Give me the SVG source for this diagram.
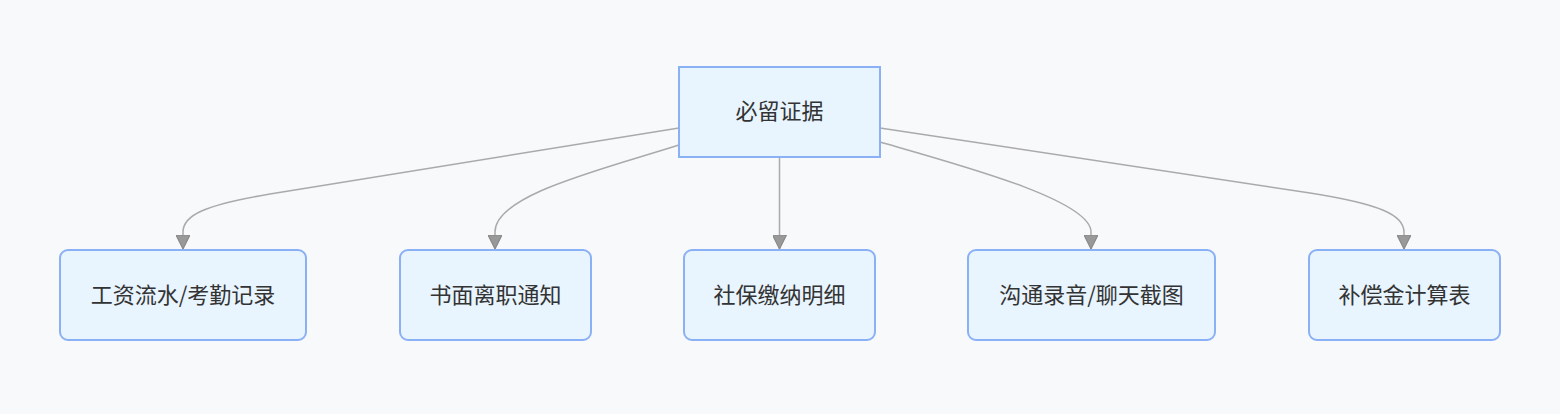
<svg xmlns="http://www.w3.org/2000/svg" width="1560" height="414" viewBox="0 0 1560 414">
<style>
.node rect{fill:#e8f4fe;stroke:#8ab0f6;stroke-width:2}
.node text{font-family:"Noto Sans CJK SC","Noto Sans",sans-serif;font-size:22px;fill:#333;text-anchor:middle;dominant-baseline:central}
.edge{fill:none;stroke:#aaaaaa;stroke-width:1.5}
</style>
<defs>
<marker id="arr" markerWidth="14" markerHeight="14" refX="10" refY="5" viewBox="0 0 10 10" orient="auto" markerUnits="userSpaceOnUse">
<path d="M0,0 L10,5 L0,10 z" fill="#999" stroke="#888" stroke-width="0.8"/>
</marker>
</defs>
<rect width="1560" height="414" fill="#f8f9fb"/>
<g id="connectors">
<path class="edge" d="M679,128 L270,194 C205,205 183,215 183,232 L183,249" marker-end="url(#arr)"/>
<path class="edge" d="M679,145 C600,170 495,195 495,232 L495,249" marker-end="url(#arr)"/>
<path class="edge" d="M779.5,157 L779.5,249" marker-end="url(#arr)"/>
<path class="edge" d="M880,142 C960,165 1091,200 1091,232 L1091,249" marker-end="url(#arr)"/>
<path class="edge" d="M880,128 L1310,193 C1380,204 1404,215 1404,232 L1404,249" marker-end="url(#arr)"/>
</g>
<g id="n0" class="node"><rect x="679" y="67" width="201" height="90"/><text x="779.5" y="109">必留证据</text></g>
<g id="n1" class="node"><rect x="60" y="250" width="246" height="90" rx="8"/><text x="183" y="293">工资流水/考勤记录</text></g>
<g id="n2" class="node"><rect x="400" y="250" width="191" height="90" rx="8"/><text x="495.5" y="293">书面离职通知</text></g>
<g id="n3" class="node"><rect x="684" y="250" width="191" height="90" rx="8"/><text x="779.5" y="293">社保缴纳明细</text></g>
<g id="n4" class="node"><rect x="968" y="250" width="247" height="90" rx="8"/><text x="1091.5" y="293">沟通录音/聊天截图</text></g>
<g id="n5" class="node"><rect x="1309" y="250" width="191" height="90" rx="8"/><text x="1404.5" y="293">补偿金计算表</text></g>
</svg>
